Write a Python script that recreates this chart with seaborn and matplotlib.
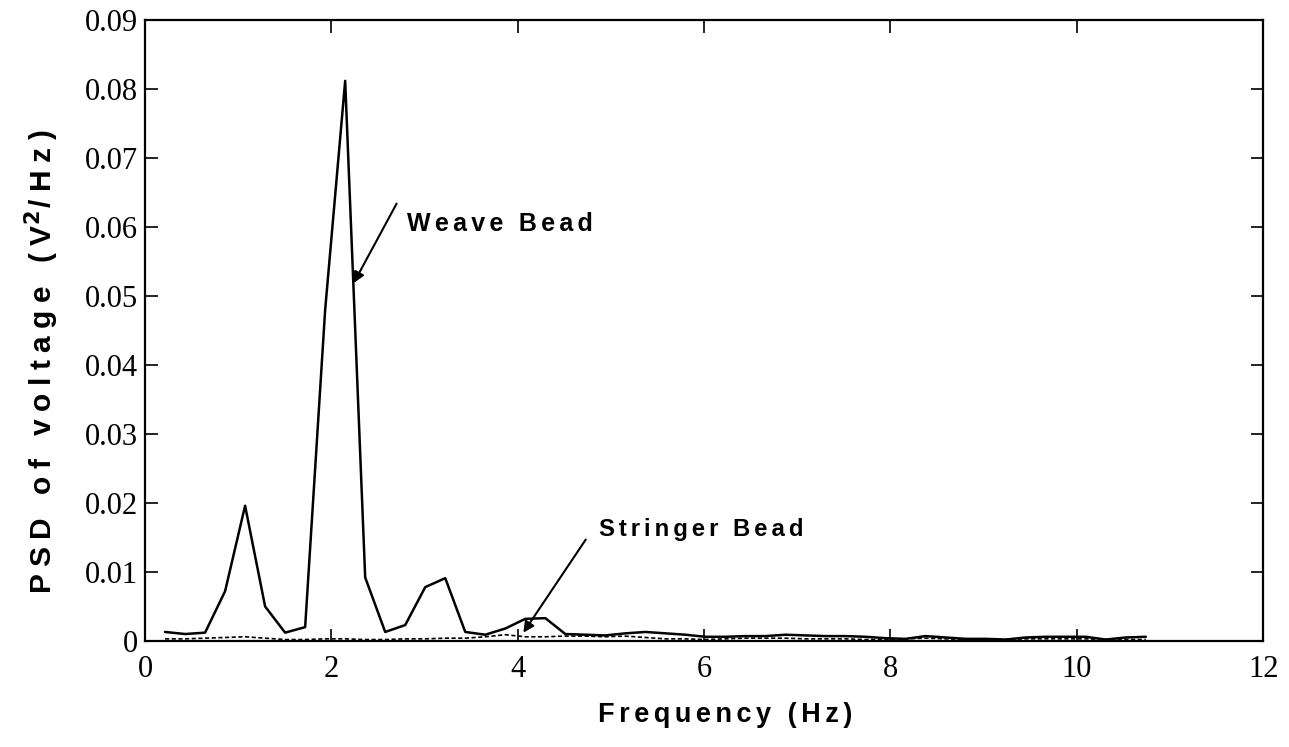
import numpy as np
import pandas as pd
import matplotlib
matplotlib.use("Agg")
import matplotlib.pyplot as plt
import seaborn as sns

# frequency bins (Hz)
freq_step = 0.2148
n_bins = 50

# PSD of voltage, weave bead (solid line)
weave = [0.0013, 0.0010, 0.0012, 0.0072, 0.0196, 0.0050, 0.0012, 0.0020, 0.0480, 0.0812,
         0.0092, 0.0013, 0.0023, 0.0078, 0.0091, 0.0013, 0.0009, 0.0018, 0.0032, 0.0033,
         0.0010, 0.0009, 0.0008, 0.0011, 0.0013, 0.0011, 0.0009, 0.0006, 0.0006, 0.0007,
         0.0007, 0.0009, 0.0008, 0.0007, 0.0007, 0.0006, 0.0004, 0.0003, 0.0007, 0.0005,
         0.0003, 0.0003, 0.0002, 0.0005, 0.0006, 0.0006, 0.0006, 0.0002, 0.0005, 0.0006]

# PSD of voltage, stringer bead (dashed line)
stringer = [0.0003, 0.0003, 0.0004, 0.0005, 0.0006, 0.0004, 0.0002, 0.0002, 0.0003, 0.0003,
            0.0002, 0.0002, 0.0003, 0.0003, 0.0004, 0.0004, 0.0006, 0.0009, 0.0006, 0.0006,
            0.0007, 0.0007, 0.0006, 0.0007, 0.0005, 0.0003, 0.0003, 0.0002, 0.0003, 0.0004,
            0.0004, 0.0004, 0.0003, 0.0003, 0.0003, 0.0002, 0.0002, 0.0003, 0.0004, 0.0003,
            0.0002, 0.0002, 0.0002, 0.0003, 0.0003, 0.0003, 0.0003, 0.0002, 0.0002, 0.0002]

x_ticks = [0, 2, 4, 6, 8, 10, 12]
y_ticks = [0, 0.01, 0.02, 0.03, 0.04, 0.05, 0.06, 0.07, 0.08, 0.09]
y_tick_labels = ["0", "0.01", "0.02", "0.03", "0.04", "0.05", "0.06", "0.07", "0.08", "0.09"]

freq = np.arange(1, n_bins + 1) * freq_step
df = pd.DataFrame({"freq": freq, "weave": weave, "stringer": stringer})

sns.set_style("ticks")
plt.rcParams["font.family"] = ["Liberation Serif", "DejaVu Sans"]
plt.rcParams["text.color"] = "black"


def spaced(s, n=2):
    # the scanned figure has wide letter spacing
    return ("\u200a" * n).join(s)


fig = plt.figure(figsize=(12.89, 7.47), dpi=100)
ax = fig.add_axes([0.1125, 0.142, 0.8675, 0.831])

sns.lineplot(data=df, x="freq", y="weave", color="black", linewidth=1.8, ax=ax)
sns.lineplot(data=df, x="freq", y="stringer", color="black", linewidth=1.2,
             linestyle=(0, (2.5, 1.5)), ax=ax)

ax.set_xlim(0, 12)
ax.set_ylim(0, 0.09)
ax.set_xticks(x_ticks)
ax.set_yticks(y_ticks)
ax.set_yticklabels(y_tick_labels)
ax.tick_params(direction="in", length=9, width=1.2, labelsize=22,
               top=True, right=True, colors="black")
ax.tick_params(axis="x", pad=10)
ax.tick_params(axis="y", pad=5)
for s in ax.spines.values():
    s.set_linewidth(1.6)
    s.set_color("black")

fam = ["Liberation Sans", "DejaVu Sans"]
ax.set_xlabel(spaced("Frequency (Hz)", 2), family=fam,
              fontweight="bold", fontsize=19.5, color="black")
ax.xaxis.set_label_coords(0.519, -0.099)
ax.set_ylabel(spaced("PSD of voltage (V", 3) + r"$^\mathbf{2}$" + "\u200a" + spaced("/Hz)", 3),
              family=fam, fontweight="bold", fontsize=21.5, color="black")
ax.yaxis.set_label_coords(-0.075, 0.449)

ann = dict(family=fam, fontweight="bold", color="black", va="center", ha="left")
arrow = dict(arrowstyle="-|>", color="black", lw=1.5, shrinkA=0, shrinkB=0,
             mutation_scale=16)
ax.text(2.81, 0.0605, spaced("Weave Bead"), fontsize=18, **ann)
ax.annotate("", xy=(2.24, 0.0519), xytext=(2.70, 0.0634), arrowprops=arrow)
ax.text(4.87, 0.0161, spaced("Stringer Bead"), fontsize=17.2, **ann)
ax.annotate("", xy=(4.06, 0.0012), xytext=(4.73, 0.0147), arrowprops=arrow)

fig.savefig("out.png", dpi=100)
